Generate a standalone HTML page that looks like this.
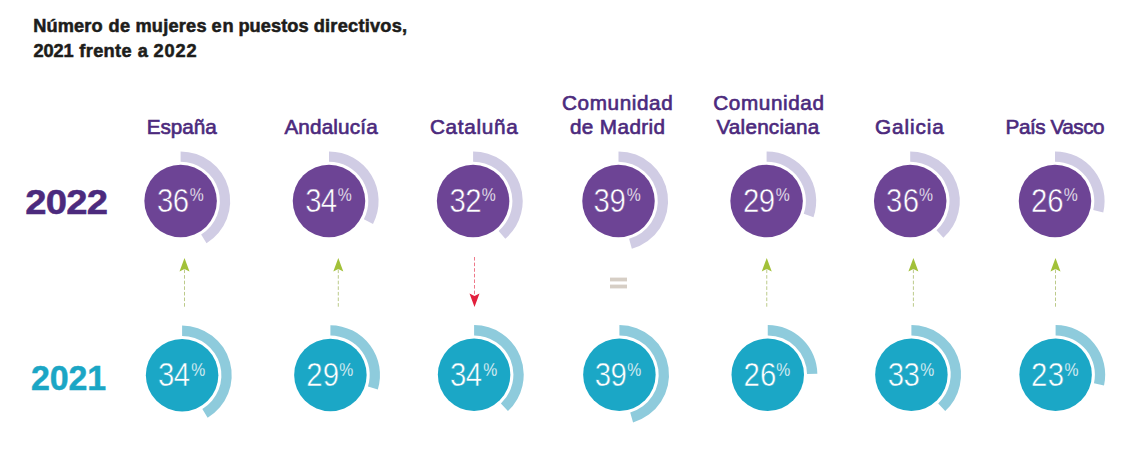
<!DOCTYPE html>
<html lang="es"><head><meta charset="utf-8"><title>Número de mujeres en puestos directivos, 2021 frente a 2022</title>
<style>
html,body{margin:0;padding:0;background:#fff;}
body{width:1141px;height:460px;overflow:hidden;position:relative;font-family:"Liberation Sans",sans-serif;}
svg{position:absolute;left:0;top:0;}
text{font-family:"Liberation Sans",sans-serif;}
.title{font-weight:bold;font-size:18.2px;fill:#1d1d1b;stroke:#1d1d1b;stroke-width:0.55px;}
.lab{font-size:20.7px;fill:#4c2a7d;stroke:#4c2a7d;stroke-width:0.65px;}
.yr{font-weight:bold;font-size:35.9px;stroke-width:0.5px;}
.y22{fill:#4c2a7d;stroke:#4c2a7d;}
.y21{fill:#1ba6c5;stroke:#1ba6c5;}
.num{font-size:33.2px;fill:#fff;stroke-width:0.55px;}
.pc{font-size:19px;fill:#fff;stroke-width:0.3px;}
.n22{stroke:#6d4495;}
.n21{stroke:#1ba7c6;}
</style></head><body>
<svg width="1141" height="460" viewBox="0 0 1141 460">
<path d="M180.60 151.40A49.6 49.6 0 0 1 206.52 243.29L201.13 234.51A39.3 39.3 0 0 0 180.60 161.70Z" fill="#d0cce4"/>
<circle cx="180.6" cy="201.0" r="36.25" fill="#6d4495"/>
<path d="M182.10 325.60A49.6 49.6 0 0 1 207.65 417.72L202.34 408.89A39.3 39.3 0 0 0 182.10 335.90Z" fill="#8ecbdc"/>
<circle cx="182.1" cy="375.2" r="36.25" fill="#1ba7c6"/>
<path d="M184.5 258l5 13.4l-5 -2.4l-5 2.4z" fill="#a2c139"/>
<line x1="184.5" y1="269.5" x2="184.5" y2="307.6" stroke="#90a63c" stroke-opacity="0.8" stroke-width="0.75" stroke-dasharray="3.6 2"/>
<path d="M329.00 151.40A49.6 49.6 0 0 1 373.00 223.90L363.86 219.15A39.3 39.3 0 0 0 329.00 161.70Z" fill="#d0cce4"/>
<circle cx="329.0" cy="201.0" r="36.25" fill="#6d4495"/>
<path d="M330.40 325.30A49.6 49.6 0 0 1 377.83 389.40L367.98 386.39A39.3 39.3 0 0 0 330.40 335.60Z" fill="#8ecbdc"/>
<circle cx="330.4" cy="374.9" r="36.25" fill="#1ba7c6"/>
<path d="M338.3 258l5 13.4l-5 -2.4l-5 2.4z" fill="#a2c139"/>
<line x1="338.3" y1="269.5" x2="338.3" y2="307.6" stroke="#90a63c" stroke-opacity="0.8" stroke-width="0.75" stroke-dasharray="3.6 2"/>
<path d="M473.10 151.40A49.6 49.6 0 0 1 505.31 238.72L498.62 230.88A39.3 39.3 0 0 0 473.10 161.70Z" fill="#d0cce4"/>
<circle cx="473.1" cy="201.0" r="36.25" fill="#6d4495"/>
<path d="M474.10 325.10A49.6 49.6 0 0 1 507.93 410.98L500.90 403.44A39.3 39.3 0 0 0 474.10 335.40Z" fill="#8ecbdc"/>
<circle cx="474.1" cy="374.7" r="36.25" fill="#1ba7c6"/>
<path d="M474.5 307l5 -13.4l-5 2.4l-5 -2.4z" fill="#e21f3c"/>
<line x1="474.5" y1="257" x2="474.5" y2="295" stroke="#e21f3c" stroke-opacity="0.8" stroke-width="0.75" stroke-dasharray="3.6 2"/>
<path d="M618.50 151.40A49.6 49.6 0 0 1 631.84 248.77L629.07 238.85A39.3 39.3 0 0 0 618.50 161.70Z" fill="#d0cce4"/>
<circle cx="618.5" cy="201.0" r="36.25" fill="#6d4495"/>
<path d="M619.40 325.10A49.6 49.6 0 0 1 633.07 422.38L630.23 412.48A39.3 39.3 0 0 0 619.40 335.40Z" fill="#8ecbdc"/>
<circle cx="619.4" cy="374.7" r="36.25" fill="#1ba7c6"/>
<rect x="610" y="277.6" width="17" height="3.8" fill="#d6cec5"/>
<rect x="610" y="284.6" width="17" height="3.8" fill="#d6cec5"/>
<path d="M766.60 151.40A49.6 49.6 0 0 1 813.50 217.15L803.76 213.79A39.3 39.3 0 0 0 766.60 161.70Z" fill="#d0cce4"/>
<circle cx="766.6" cy="201.0" r="36.25" fill="#6d4495"/>
<path d="M767.75 325.10A49.6 49.6 0 0 1 817.34 373.83L807.04 374.01A39.3 39.3 0 0 0 767.75 335.40Z" fill="#8ecbdc"/>
<circle cx="767.75" cy="374.7" r="36.25" fill="#1ba7c6"/>
<path d="M766.75 258l5 13.4l-5 -2.4l-5 2.4z" fill="#a2c139"/>
<line x1="766.75" y1="269.5" x2="766.75" y2="307.6" stroke="#90a63c" stroke-opacity="0.8" stroke-width="0.75" stroke-dasharray="3.6 2"/>
<path d="M910.20 151.40A49.6 49.6 0 0 1 943.39 237.86L936.50 230.21A39.3 39.3 0 0 0 910.20 161.70Z" fill="#d0cce4"/>
<circle cx="910.2" cy="201.0" r="36.25" fill="#6d4495"/>
<path d="M911.40 325.10A49.6 49.6 0 0 1 945.23 410.98L938.20 403.44A39.3 39.3 0 0 0 911.40 335.40Z" fill="#8ecbdc"/>
<circle cx="911.4" cy="374.7" r="36.25" fill="#1ba7c6"/>
<path d="M913.4 258l5 13.4l-5 -2.4l-5 2.4z" fill="#a2c139"/>
<line x1="913.4" y1="269.5" x2="913.4" y2="307.6" stroke="#90a63c" stroke-opacity="0.8" stroke-width="0.75" stroke-dasharray="3.6 2"/>
<path d="M1055.00 151.40A49.6 49.6 0 0 1 1103.27 212.41L1093.25 210.04A39.3 39.3 0 0 0 1055.00 161.70Z" fill="#d0cce4"/>
<circle cx="1055.0" cy="201.0" r="36.25" fill="#6d4495"/>
<path d="M1055.60 325.10A49.6 49.6 0 0 1 1104.02 385.44L1093.97 383.21A39.3 39.3 0 0 0 1055.60 335.40Z" fill="#8ecbdc"/>
<circle cx="1055.6" cy="374.7" r="36.25" fill="#1ba7c6"/>
<path d="M1055.5 258l5 13.4l-5 -2.4l-5 2.4z" fill="#a2c139"/>
<line x1="1055.5" y1="269.5" x2="1055.5" y2="307.6" stroke="#90a63c" stroke-opacity="0.8" stroke-width="0.75" stroke-dasharray="3.6 2"/>
<text class="title" x="33.20" y="31.7" textLength="69.40" lengthAdjust="spacing">Número</text>
<text class="title" x="108.42" y="31.7" textLength="21.68" lengthAdjust="spacing">de</text>
<text class="title" x="135.43" y="31.7" textLength="71.15" lengthAdjust="spacing">mujeres</text>
<text class="title" x="211.43" y="31.7" textLength="22.15" lengthAdjust="spacing">en</text>
<text class="title" x="238.43" y="31.7" textLength="70.15" lengthAdjust="spacing">puestos</text>
<text class="title" x="313.70" y="31.7" textLength="93.40" lengthAdjust="spacing">directivos,</text>
<text class="title" x="33.38" y="56.8" textLength="40.25" lengthAdjust="spacing">2021</text>
<text class="title" x="79.33" y="56.8" textLength="52.25" lengthAdjust="spacing">frente</text>
<text class="title" x="137.85" y="56.8" textLength="7.50" lengthAdjust="spacing">a</text>
<text class="title" x="153.43" y="56.8" textLength="43.15" lengthAdjust="spacing">2022</text>
<text class="yr y22" transform="translate(25.25 214.0) scale(1.065 1)" textLength="77.70" lengthAdjust="spacing">2022</text>
<text class="yr y21" transform="translate(31.05 390.4) scale(0.945 1)" textLength="79.37" lengthAdjust="spacing">2021</text>
<text class="lab" x="146.66" y="133.7" textLength="70.04" lengthAdjust="spacing">España</text>
<text class="num n22" transform="translate(156.90 211.7) scale(0.885 1)" textLength="36.38" lengthAdjust="spacing">36</text>
<text class="pc n22" transform="translate(189.71 201.3) scale(0.83 1)" textLength="18.82" lengthAdjust="spacing">%</text>
<text class="num n21" transform="translate(158.05 385.9) scale(0.885 1)" textLength="36.16" lengthAdjust="spacing">34</text>
<text class="pc n21" transform="translate(191.35 375.8) scale(0.83 1)" textLength="21.39" lengthAdjust="spacing">%</text>
<text class="lab" x="284.38" y="133.7" textLength="93.30" lengthAdjust="spacing">Andalucía</text>
<text class="num n22" transform="translate(305.21 211.7) scale(0.885 1)" textLength="35.98" lengthAdjust="spacing">34</text>
<text class="pc n22" transform="translate(337.84 201.3) scale(0.83 1)" textLength="19.69" lengthAdjust="spacing">%</text>
<text class="num n21" transform="translate(306.26 385.9) scale(0.885 1)" textLength="37.18" lengthAdjust="spacing">29</text>
<text class="pc n21" transform="translate(339.20 375.8) scale(0.83 1)" textLength="21.39" lengthAdjust="spacing">%</text>
<text class="lab" x="429.95" y="133.7" textLength="87.77" lengthAdjust="spacing">Cataluña</text>
<text class="num n22" transform="translate(449.40 211.7) scale(0.885 1)" textLength="36.38" lengthAdjust="spacing">32</text>
<text class="pc n22" transform="translate(481.76 201.3) scale(0.83 1)" textLength="19.90" lengthAdjust="spacing">%</text>
<text class="num n21" transform="translate(450.05 385.9) scale(0.885 1)" textLength="36.16" lengthAdjust="spacing">34</text>
<text class="pc n21" transform="translate(483.35 375.8) scale(0.83 1)" textLength="21.39" lengthAdjust="spacing">%</text>
<text class="lab" x="562.00" y="109.9" textLength="110.75" lengthAdjust="spacing">Comunidad</text>
<text class="lab" x="569.95" y="133.7" textLength="95.10" lengthAdjust="spacing">de Madrid</text>
<text class="num n22" transform="translate(593.60 211.7) scale(0.885 1)" textLength="36.38" lengthAdjust="spacing">39</text>
<text class="pc n22" transform="translate(626.68 201.3) scale(0.83 1)" textLength="19.69" lengthAdjust="spacing">%</text>
<text class="num n21" transform="translate(594.80 385.9) scale(0.885 1)" textLength="36.16" lengthAdjust="spacing">39</text>
<text class="pc n21" transform="translate(627.20 375.8) scale(0.83 1)" textLength="21.39" lengthAdjust="spacing">%</text>
<text class="lab" x="713.25" y="109.9" textLength="110.75" lengthAdjust="spacing">Comunidad</text>
<text class="lab" x="716.38" y="133.7" textLength="102.83" lengthAdjust="spacing">Valenciana</text>
<text class="num n22" transform="translate(742.90 211.7) scale(0.885 1)" textLength="36.38" lengthAdjust="spacing">29</text>
<text class="pc n22" transform="translate(775.71 201.3) scale(0.83 1)" textLength="18.82" lengthAdjust="spacing">%</text>
<text class="num n21" transform="translate(743.38 385.9) scale(0.885 1)" textLength="37.18" lengthAdjust="spacing">26</text>
<text class="pc n21" transform="translate(776.32 375.8) scale(0.83 1)" textLength="21.39" lengthAdjust="spacing">%</text>
<text class="lab" x="875.00" y="133.7" textLength="68.67" lengthAdjust="spacing">Galicia</text>
<text class="num n22" transform="translate(886.05 211.7) scale(0.885 1)" textLength="37.40" lengthAdjust="spacing">36</text>
<text class="pc n22" transform="translate(918.95 201.3) scale(0.83 1)" textLength="21.20" lengthAdjust="spacing">%</text>
<text class="num n21" transform="translate(887.80 385.9) scale(0.885 1)" textLength="36.16" lengthAdjust="spacing">33</text>
<text class="pc n21" transform="translate(920.20 375.8) scale(0.83 1)" textLength="21.39" lengthAdjust="spacing">%</text>
<text class="lab" x="1005.52" y="133.7" textLength="99.05" lengthAdjust="spacing">País Vasco</text>
<text class="num n22" transform="translate(1030.94 211.7) scale(0.885 1)" textLength="36.79" lengthAdjust="spacing">26</text>
<text class="pc n22" transform="translate(1063.84 201.3) scale(0.83 1)" textLength="19.69" lengthAdjust="spacing">%</text>
<text class="num n21" transform="translate(1031.10 385.9) scale(0.885 1)" textLength="37.18" lengthAdjust="spacing">23</text>
<text class="pc n21" transform="translate(1064.40 375.8) scale(0.83 1)" textLength="21.39" lengthAdjust="spacing">%</text>
</svg>
</body></html>
